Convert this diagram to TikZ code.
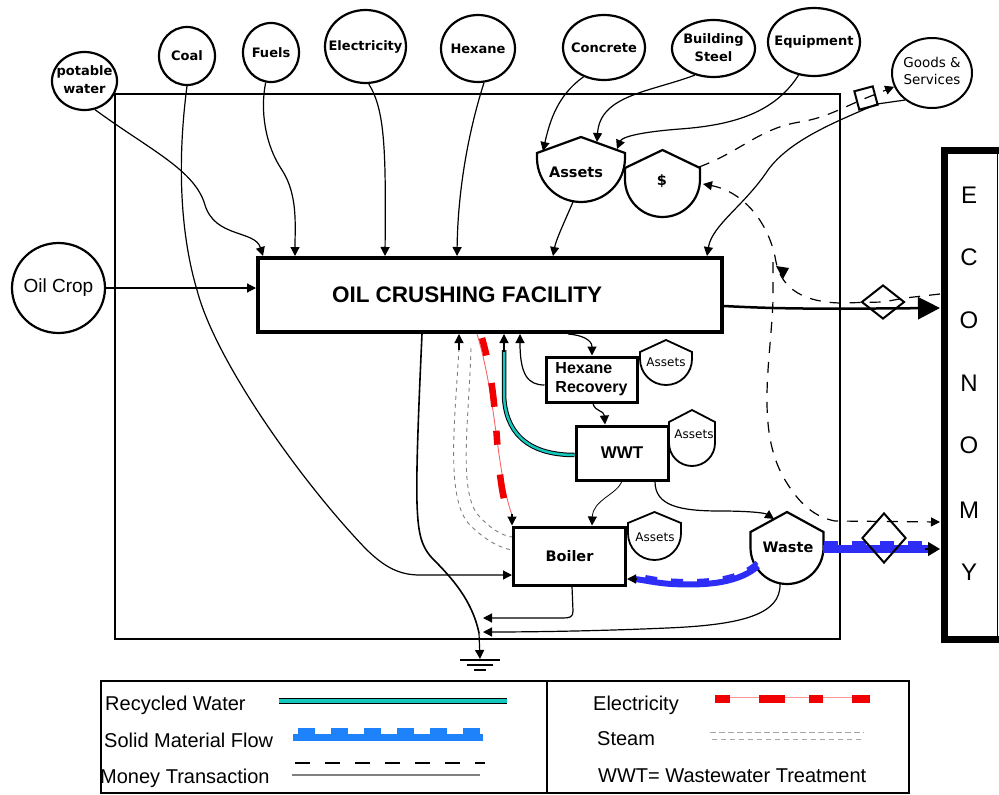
\documentclass[tikz,border=0pt]{standalone}
\usepackage{fontspec}
\setmainfont{Liberation Sans}
\newfontfamily\dejavu{DejaVu Sans}
\usetikzlibrary{shapes.geometric,arrows.meta}
\newcommand{\fsz}[2]{\fontsize{#1}{#2}\selectfont}
\newcommand{\twol}[2]{\makebox[0pt]{\begin{tabular}{@{}c@{}}#1\\#2\end{tabular}}}
\newcommand{\tankdraw}[6]{\draw[line width=#6] (#1+#3,#2) arc[start angle=0,end angle=180,radius=#3] -- (#1-#3,#4) -- (#1,#5) -- (#1+#3,#4) -- cycle;}
\definecolor{flowblue}{RGB}{45,45,245}
\definecolor{legblue}{RGB}{30,130,250}
\definecolor{water}{RGB}{20,200,190}
\definecolor{elred}{RGB}{240,0,0}
\begin{document}
\begin{tikzpicture}[x=1pt,y=-1pt,
  >={Triangle[length=9pt,width=9pt]},
  src/.style={draw,ellipse,line width=2.2pt,inner sep=0pt,font=\dejavu\bfseries\fsz{13}{18}},
  srcl/.style={draw,ellipse,line width=2pt,inner sep=0pt,font=\dejavu\fsz{13.5}{17}},
  procbox/.style={draw,rectangle,line width=3pt,inner sep=0pt},
  tanklbl/.style={inner sep=0pt,font=\dejavu\bfseries\fsz{14.5}{17}},
  smalltank/.style={inner sep=0pt,font=\dejavu\fsz{12}{14}},
  flow/.style={line width=1.2pt,->},
  thinflow/.style={line width=0.8pt,->},
  money/.style={line width=1.2pt,dash pattern=on 11pt off 9pt},
  steam/.style={gray,line width=0.9pt,dash pattern=on 4pt off 4pt},
  legtext/.style={anchor=base west,inner sep=0pt,font=\fsz{20}{23}},
]
\useasboundingbox (0,0) rectangle (999,795);
\fill[white] (0,0) rectangle (999,795);

% system boundary
\node[draw,line width=2.6pt,minimum width=725pt,minimum height=545pt,inner sep=0pt] (sys) at (477.5,366.5) {};

% economy
\draw[line width=7pt] (1003,150) -- (944,150) -- (944,639) -- (1003,639);
\draw[line width=1pt] (997,150) -- (997,639);
\foreach \L/\yy [count=\i] in {E/195,C/257,O/320,N/383,O/445,M/510,Y/572}
  \node[inner sep=0pt,font=\fsz{24}{28}] (eco\i) at (969,\yy) {\L};
\coordinate (ecoOut) at (940,308);
\coordinate (ecoM1) at (940,294);
\coordinate (ecoM2) at (940,522);
\coordinate (ecoW) at (940,549);

% oil crop and facility
\node[draw,ellipse,line width=2.2pt,minimum width=93pt,minimum height=90pt,inner sep=0pt,font=\fsz{19}{22}] (oil) at (58.5,288) {\makebox[0pt]{Oil Crop}};
\node[procbox,line width=4pt,minimum width=464pt,minimum height=74pt] (fac) at (490,295) {};
\node[inner sep=0pt,font=\bfseries\fsz{22.5}{26}] (facT) at (467,295) {OIL CRUSHING FACILITY};

% sources
\node[src,minimum width=65pt,minimum height=58pt] (pw) at (84.5,81) {\twol{potable}{water}};
\node[src,minimum width=56pt,minimum height=58pt] (coal) at (187,56) {\makebox[0pt]{Coal}};
\node[src,minimum width=56pt,minimum height=59pt] (fuels) at (271,52.5) {\makebox[0pt]{Fuels}};
\node[src,minimum width=81pt,minimum height=73pt] (elec) at (365.5,46.5) {\makebox[0pt]{Electricity}};
\node[src,minimum width=74pt,minimum height=67pt] (hex) at (478,48.5) {\makebox[0pt]{Hexane}};
\node[src,minimum width=82pt,minimum height=65pt] (conc) at (604,47.5) {\makebox[0pt]{Concrete}};
\node[src,minimum width=83pt,minimum height=57pt] (steel) at (713.5,48.5) {\twol{Building}{Steel}};
\node[src,minimum width=92pt,minimum height=68pt] (equip) at (814,42) {\makebox[0pt]{Equipment}};
\node[srcl,minimum width=80pt,minimum height=70pt] (gs) at (932,73) {\twol{Goods \&}{Services}};

% tanks
\tankdraw{581}{158}{44}{153}{137}{2.2pt}
\node[tanklbl] (assetsT) at (576,172) {Assets};
\tankdraw{662.5}{179.5}{37.5}{168}{150}{2.2pt}
\node[tanklbl] (dolT) at (662,181) {\$};
\tankdraw{666}{359}{26}{352}{340}{1.8pt}
\node[smalltank] (a1T) at (666,362) {Assets};
\tankdraw{692}{443}{23}{422}{410}{1.8pt}
\node[smalltank] (a2T) at (694,434) {Assets};
\tankdraw{654.5}{533.5}{26.5}{523}{512}{1.8pt}
\node[smalltank] (a3T) at (655,537) {Assets};
\tankdraw{787}{547.5}{36.5}{532}{512}{2.2pt}
\node[tanklbl] (wasteT) at (788,547) {Waste};

% process boxes
\node[procbox,minimum width=91pt,minimum height=45pt,align=left,font=\bfseries\fsz{16}{19}] (hr) at (591.5,379.5) {Hexane\\Recovery};
\node[procbox,minimum width=92pt,minimum height=54pt,font=\bfseries\fsz{17}{20}] (wwt) at (622,453) {WWT};
\node[procbox,minimum width=112pt,minimum height=58pt,font=\dejavu\bfseries\fsz{14.5}{17}] (boil) at (569.5,556) {Boiler};

% ground
\coordinate (gj) at (479,633);
\coordinate (gnd) at (480,659);
\draw[line width=1.2pt] (460,660) -- (500,660) (467,665) -- (493,665) (474,670) -- (486,670);

% inputs
\draw[flow] (oil.east) -- (fac.west |- oil.east);
\draw[flow] (pw.-70) .. controls (150,150) and (195,170) .. (205,205) .. controls (215,238) and (255,230) .. (263,0 |- fac.north);
\draw[flow] (coal.south) .. controls (176,170) and (182,240) .. (197,290) .. controls (215,360) and (300,480) .. (365,548) .. controls (385,568) and (400,575) .. (420,575) -- (boil.west |- 0,575);
\draw[flow] (fuels.-100) .. controls (260,110) and (265,145) .. (282,170) .. controls (298,195) and (295,225) .. (295,0 |- fac.north);
\draw[flow] (elec.-85) .. controls (385,110) and (386,150) .. (385,0 |- fac.north);
\draw[flow] (hex.-80) .. controls (472,120) and (458,180) .. (457,0 |- fac.north);
\draw[flow] (conc.-125) .. controls (558,95) and (550,120) .. ([shift={(-33,-21)}]assetsT.center);
\draw[flow] (steel.-125) .. controls (650,92) and (600,95) .. ([shift={(21,-30)}]assetsT.center);
\draw[flow] (equip.-115) .. controls (775,112) and (735,125) .. (680,129) .. controls (640,132) and (622,137) .. ([shift={(41,-23)}]assetsT.center);
\draw[flow] ([shift={(-3,30)}]assetsT.center) .. controls (563,225) and (556,240) .. (553,0 |- fac.north);
\draw[flow] (gs.-135) -- (877,104) .. controls (835,122) and (790,140) .. (768,170) .. controls (745,205) and (712,225) .. (707,0 |- fac.north);
\draw[money,->] ([shift={(37,-14)}]dolT.center) .. controls (740,152) and (760,128) .. (800,122) .. controls (825,118) and (842,108) .. (866,98) -- (gs.-160);
\node[draw,line width=2pt,minimum size=19pt,inner sep=0pt,rotate=15] (sq) at (866,98) {};

% output and heat
\draw[line width=2.5pt,-{Triangle[length=22pt,width=22pt]}] (fac.east |- 0,306) .. controls (780,309) and (820,309) .. (ecoOut);
\draw[line width=1.6pt] (422,0 |- fac.south) .. controls (419,400) and (416,470) .. (417,503) .. controls (418,530) and (420,545) .. (432,558) .. controls (452,578) and (472,600) .. (gj);
\draw[flow] (gj) -- (gnd);
\draw[flow] (572,0 |- boil.south) -- (573,611) .. controls (573,617) and (570,618) .. (563,618) -- (483,618);
\draw[flow] ([shift={(-8,37)}]wasteT.center) .. controls (781,615) and (740,625) .. (667,628) .. controls (600,631) and (530,632) .. (483,632);

% hexane recovery, wwt
\draw[flow] (568,0 |- fac.south) .. controls (582,335) and (592,340) .. (592,0 |- hr.north);
\draw[flow] (hr.west |- 0,385) .. controls (528,385) and (520,375) .. (520,0 |- fac.south);
\draw[flow] (593,0 |- hr.south) .. controls (595,412) and (604,410) .. (605,0 |- wwt.north);
\draw[line width=1pt,double=water,double distance=2.5pt] (wwt.west |- 0,455) .. controls (525,455) and (505,430) .. (504,395) -- (504,350);
\draw[flow] (504,352) -- (504,0 |- fac.south);
\draw[thinflow] (622,0 |- wwt.south) .. controls (616,495) and (593,500) .. (592,0 |- boil.north);
\draw[flow] (655,0 |- wwt.south) .. controls (655,506) and (680,511) .. (720,511) .. controls (750,511) and (765,513) .. ([shift={(-14,-28)}]wasteT.center);

% electricity and steam
\draw[elred!60,line width=0.9pt] (477,0 |- fac.south) .. controls (497,400) and (496,470) .. (512,515);
\draw[elred,line width=6.5pt,dash pattern=on 18pt off 28pt on 24pt off 24pt on 14pt off 30pt on 24pt off 10pt] (482,338) .. controls (500,400) and (494,460) .. (505,503);
\draw[flow] (512,514) -- (512,0 |- boil.north);
\draw[steam] (459,348) .. controls (455,420) and (445,500) .. (470,525) .. controls (485,540) and (500,548) .. (boil.west |- 0,550);
\draw[steam] (471,348) .. controls (469,420) and (458,490) .. (478,515) .. controls (490,528) and (500,535) .. (boil.west |- 0,537);
\draw[flow] (459,350) -- (459,0 |- fac.south);

% solid material
\draw[flowblue,line width=6pt] ([shift={(-30,19)}]wasteT.center) .. controls (740,582) and (710,586) .. (672,584) .. controls (655,583) and (645,580) .. (634,579);
\draw[flowblue,line width=4pt,dash pattern=on 12pt off 14pt] (757,562.5) .. controls (740,578.5) and (710,582.5) .. (672,580.5) .. controls (655,579.5) and (645,576.5) .. (636,575.5);
\draw[flow] (636,579) -- (boil.east |- 0,579);
\draw[flowblue,line width=8pt] ([shift={(35,2)}]wasteT.center) -- (928,549);
\draw[flowblue,line width=5pt,dash pattern=on 14pt off 14pt] (824,543) -- (928,543);
\draw[line width=1.2pt,-{Triangle[length=12pt,width=14pt]}] (925,549) -- (ecoW);

% diamonds and money to economy
\node[draw,diamond,line width=2pt,minimum width=43pt,minimum height=34pt,inner sep=0pt] (dm1) at (883,302) {};
\node[draw,diamond,line width=2pt,minimum width=44pt,minimum height=50pt,inner sep=0pt] (dm2) at (884,538) {};
\draw[money,->] (ecoM1) -- (905,298) -- (dm1.center) -- (840,303) .. controls (805,302) and (782,290) .. (776,262) .. controls (770,225) and (745,192) .. ([shift={(41,3)}]dolT.center);
\fill (776,266) -- (789,268) -- (783,279) -- cycle;
\draw[money,->] (773,262) -- (773,300) .. controls (771,360) and (755,430) .. (785,480) .. controls (800,505) and (815,517) .. (835,521) -- (ecoM2);

% legend
\node[draw,line width=1.5pt,minimum width=808pt,minimum height=112pt,inner sep=0pt] (leg) at (505,737) {};
\draw[line width=1.5pt] (547,0 |- leg.north) -- (547,0 |- leg.south);
\node[legtext] (l1) at (105,710) {Recycled Water};
\node[legtext] (l2) at (104,747) {Solid Material Flow};
\node[legtext] (l3) at (100,783) {Money Transaction};
\node[legtext] (l4) at (593,710) {Electricity};
\node[legtext] (l5) at (597,745) {Steam};
\node[legtext] (l6) at (598,782) {WWT= Wastewater Treatment};
\draw[line width=1.5pt,double=water,double distance=3.5pt] (279,701) -- (507,701);
\draw[legblue,line width=7pt] (293,737.5) -- (483,737.5);
\draw[legblue,line width=6pt,dash pattern=on 17pt off 16pt] (298,731) -- (483,731);
\draw[line width=1.5pt,dash pattern=on 15pt off 15pt] (295,763) -- (485,763);
\draw[gray,line width=1.5pt] (292,775) -- (480,775);
\draw[elred!40,line width=1pt] (715,697) -- (870,697);
\draw[elred,line width=8pt,dash pattern=on 15pt off 29pt on 26pt off 24pt on 14pt off 29pt on 18pt off 10pt] (715,699) -- (870,699);
\draw[gray!70,line width=1pt,dash pattern=on 6pt off 3pt] (710,732) -- (864,732);
\draw[gray!70,line width=1pt,dash pattern=on 5pt off 4pt] (712,739) -- (862,739);
\end{tikzpicture}
\end{document}
